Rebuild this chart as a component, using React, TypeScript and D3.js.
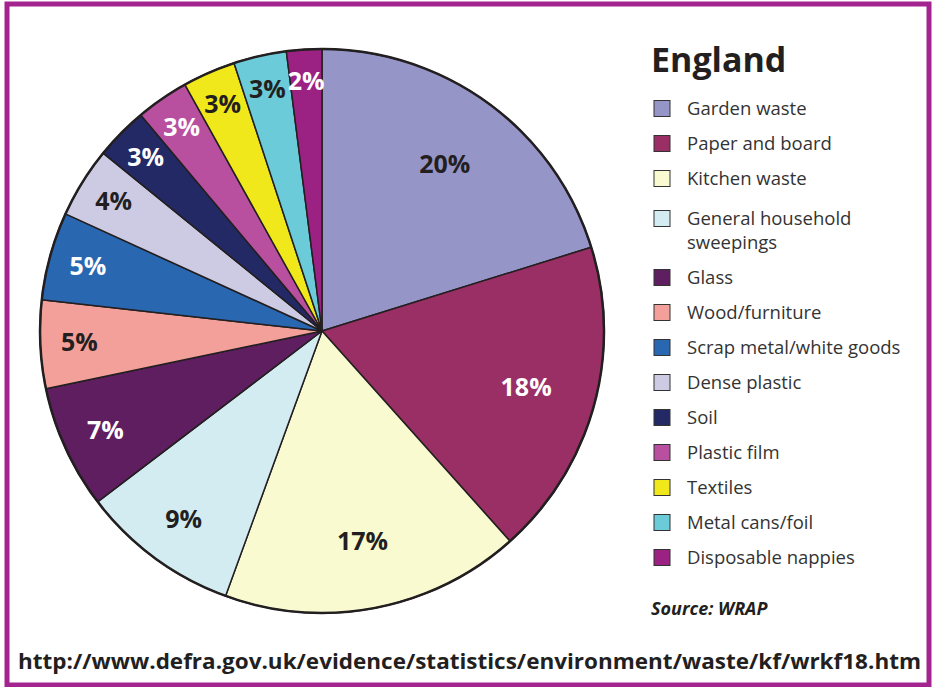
import React from 'react';
import * as d3 from 'd3';

// waste composition, England
const categories = [
  'Garden waste',
  'Paper and board',
  'Kitchen waste',
  'General household sweepings',
  'Glass',
  'Wood/furniture',
  'Scrap metal/white goods',
  'Dense plastic',
  'Soil',
  'Plastic film',
  'Textiles',
  'Metal cans/foil',
  'Disposable nappies',
];
const shares = [20, 18, 17, 9, 7, 5, 5, 4, 3, 3, 3, 3, 2];
const sliceColors = [
  '#9695c8', '#9a2f66', '#fafad0', '#d3ecf2', '#5e1e60', '#f3a09a', '#2a67b1',
  '#cdcbe4', '#232965', '#b84f9f', '#f0e81a', '#6bcbd9', '#9b2283',
];
// label colour on each slice: dark or white
const labelOnDark = [false, true, false, false, true, false, true, false, true, true, false, false, true];

const title = 'England';
const source = 'Source: WRAP';
const url = 'http://www.defra.gov.uk/evidence/statistics/environment/waste/kf/wrkf18.htm';

const W = 934;
const H = 687;
const cx = 322;
const cy = 331;
const R = 282;
const ink = '#231f20';

const wrap = (s: string) => {
  if (s.length <= 24) return [s];
  const cut = s.lastIndexOf(' ', 24);
  return [s.slice(0, cut), s.slice(cut + 1)];
};

export default function App() {
  const pie = d3.pie<number>().sort(null).value((d) => d);
  const arcs = pie(shares);
  const arc = d3.arc<d3.PieArcDatum<number>>().innerRadius(0).outerRadius(R);
  // smaller slices get their label pushed further out
  const labelR = d3.scaleLinear().domain([2, 20]).range([250, 207]);

  // legend layout
  let y = 109;
  const legend = categories.map((c, i) => {
    const lines = wrap(c);
    if (i > 0) y += lines.length > 1 ? 40 : 35;
    const item = { c, lines, y, i };
    y += (lines.length - 1) * 24;
    return item;
  });

  return (
    <svg width={W} height={H} style={{ position: 'absolute', left: 0, top: 0, background: '#fff' }}>
      <rect x={7} y={4} width={W - 12} height={H - 6} fill="#fff" stroke="#a3248f" strokeWidth={5} />

      <g transform={`translate(${cx},${cy})`}>
        {arcs.map((a, i) => (
          <path key={i} d={arc(a) || ''} fill={sliceColors[i]} stroke={ink} strokeWidth={1.5} strokeLinejoin="round" />
        ))}
        <circle r={R} fill="none" stroke={ink} strokeWidth={2.5} />
        {arcs.map((a, i) => {
          const m = (a.startAngle + a.endAngle) / 2;
          const r = labelR(a.data);
          return (
            <text
              key={i}
              x={Math.sin(m) * r}
              y={-Math.cos(m) * r}
              dy="0.35em"
              textAnchor="middle"
              fontFamily="'Open Sans', sans-serif"
              fontWeight={700}
              fontSize={25}
              fill={labelOnDark[i] ? '#fff' : ink}
            >
              {a.data}%
            </text>
          );
        })}
      </g>

      <text x={651} y={72} fontFamily="'Open Sans', sans-serif" fontWeight={700} fontSize={34} fill={ink}>
        {title}
      </text>
      {legend.map((d) => (
        <g key={d.i}>
          <rect x={654} y={d.y - 8.5} width={16} height={16} fill={sliceColors[d.i]} stroke="#333" strokeWidth={1} />
          <text x={687} y={d.y} fontFamily="'Open Sans', sans-serif" fontSize={18.5} fill="#333">
            {d.lines.map((l, k) => (
              <tspan key={k} x={687} dy={k === 0 ? '0.35em' : 24}>
                {l}
              </tspan>
            ))}
          </text>
        </g>
      ))}

      <text x={651} y={615} fontFamily="'Open Sans', sans-serif" fontWeight={700} fontStyle="italic" fontSize={18} fill={ink}>
        {source}
      </text>
      <text
        x={18}
        y={669}
        textLength={903}
        lengthAdjust="spacingAndGlyphs"
        fontFamily="'Open Sans', sans-serif"
        fontWeight={700}
        fontSize={22}
        fill={ink}
      >
        {url}
      </text>
    </svg>
  );
}
